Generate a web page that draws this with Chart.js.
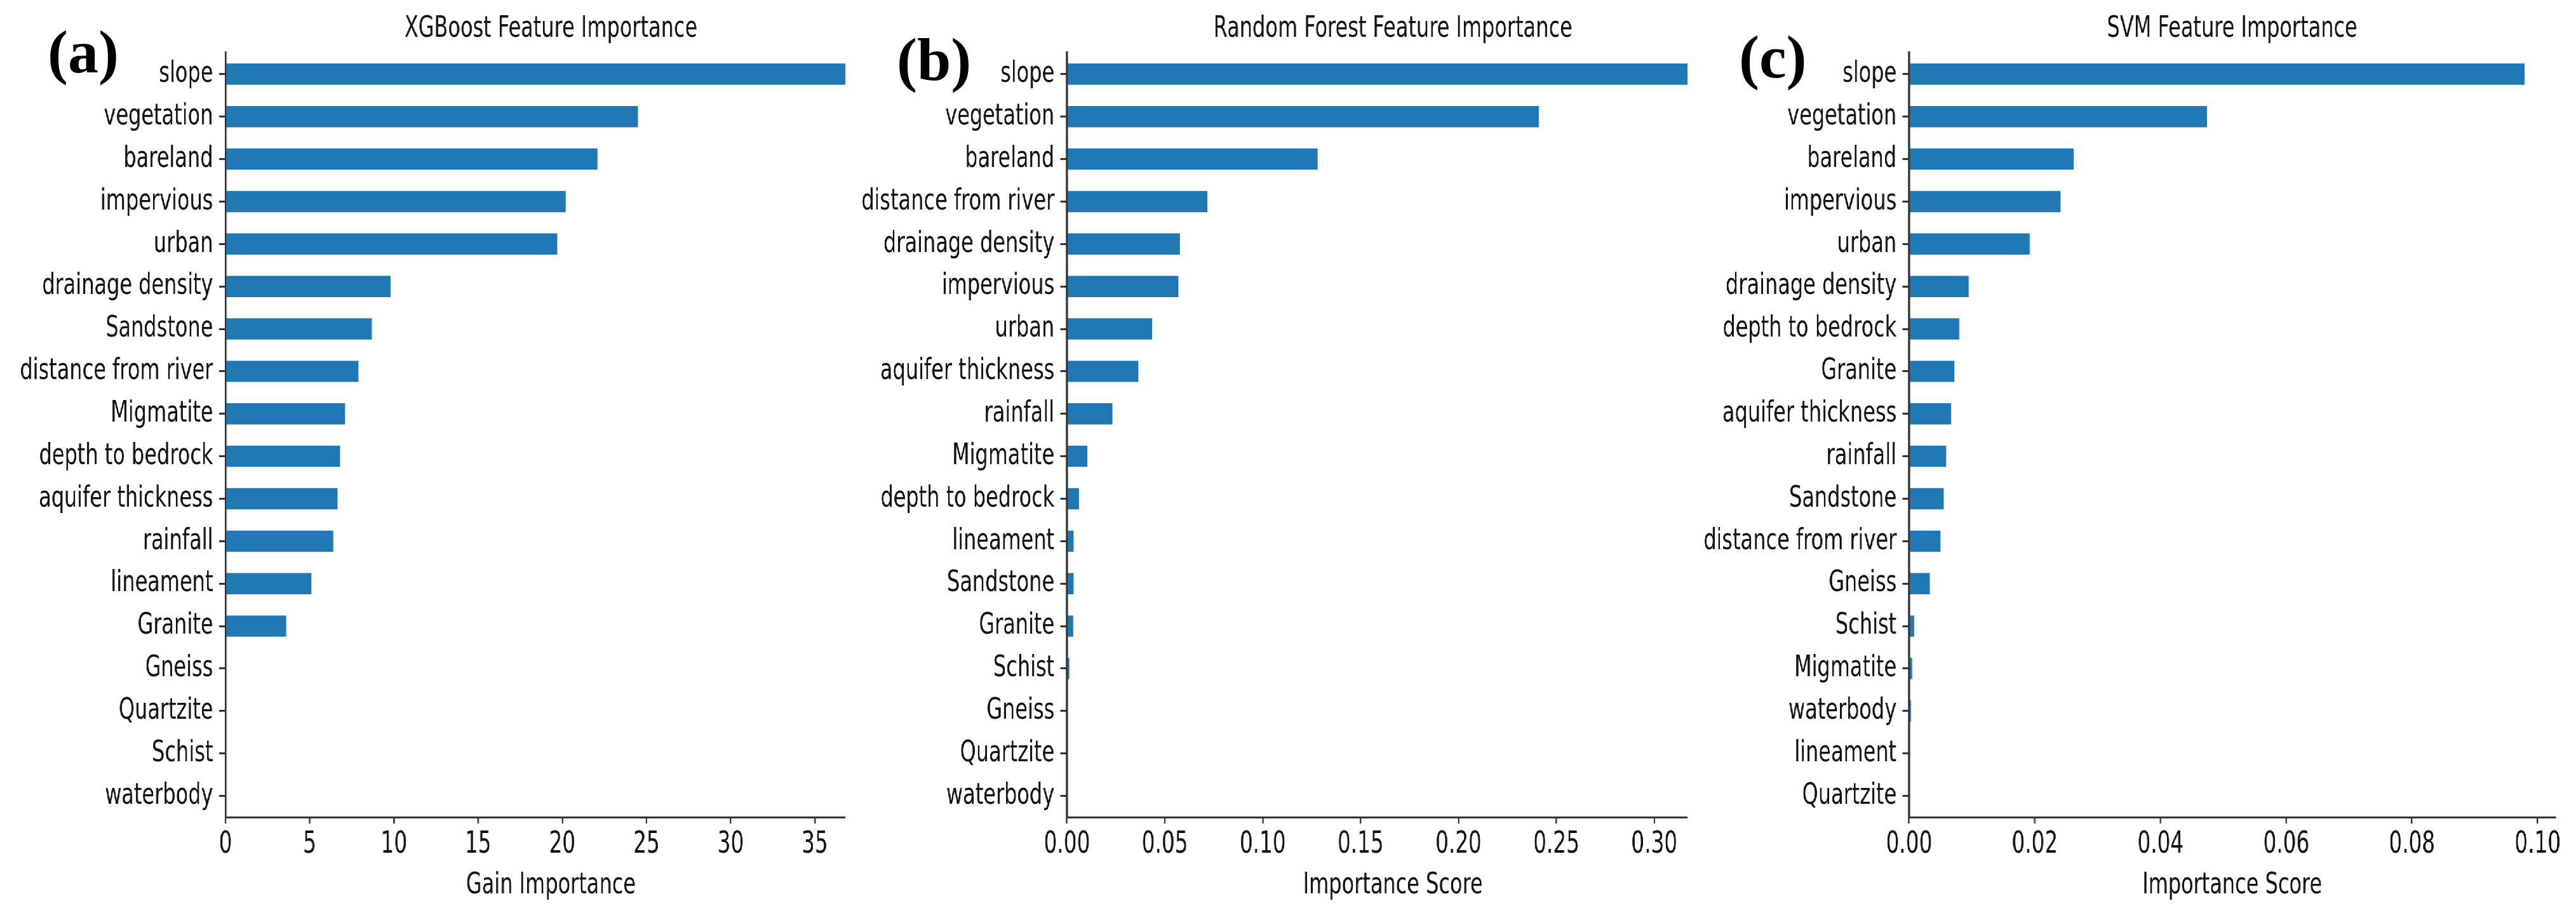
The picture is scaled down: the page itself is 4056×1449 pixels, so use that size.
<!DOCTYPE html>
<html>
<head>
<meta charset="utf-8">
<script src="https://cdn.jsdelivr.net/npm/chart.js@4.4.1/dist/chart.umd.min.js"></script>
<style>
  html, body { margin: 0; padding: 0; background: #fff; }
  body { width: 4056px; height: 1449px; position: relative; overflow: hidden; }
  #stage { position: absolute; left: 0; top: 0; height: 1449px; transform-origin: 0 0; }
  .panel { position: absolute; top: 0; height: 1449px; background: #fff; }
  .tag { position: absolute; font-family: "Liberation Serif", "Times New Roman", serif;
         font-weight: bold; font-size: 96px; line-height: 96px; color: #000; }
</style>
</head>
<body>
<div id="stage">
  <div class="panel" id="pa"><canvas></canvas></div>
  <div class="panel" id="pb"><canvas></canvas></div>
  <div class="panel" id="pc"><canvas></canvas></div>
</div>
<div class="tag" style="left:75px;top:34px">(a)</div>
<div class="tag" style="left:1412px;top:46px">(b)</div>
<div class="tag" style="left:2738px;top:42px">(c)</div>

<script>
// (a) XGBoost
const xgbFeatures = ['slope', 'vegetation', 'bareland', 'impervious', 'urban', 'drainage density',
  'Sandstone', 'distance from river', 'Migmatite', 'depth to bedrock', 'aquifer thickness',
  'rainfall', 'lineament', 'Granite', 'Gneiss', 'Quartzite', 'Schist', 'waterbody'];
const xgbGain = [36.9, 24.5, 22.1, 20.2, 19.7, 9.8, 8.7, 7.9, 7.1, 6.8, 6.65, 6.4, 5.1, 3.6, 0, 0, 0, 0];
const xgbTicks = [0, 5, 10, 15, 20, 25, 30, 35];
const xgbTickLabels = ['0', '5', '10', '15', '20', '25', '30', '35'];

// (b) Random Forest
const rfFeatures = ['slope', 'vegetation', 'bareland', 'distance from river', 'drainage density',
  'impervious', 'urban', 'aquifer thickness', 'rainfall', 'Migmatite', 'depth to bedrock',
  'lineament', 'Sandstone', 'Granite', 'Schist', 'Gneiss', 'Quartzite', 'waterbody'];
const rfScore = [0.317, 0.241, 0.128, 0.0717, 0.0577, 0.0569, 0.0435, 0.0366, 0.0232, 0.0104,
  0.0061, 0.0035, 0.0035, 0.0032, 0.0012, 0, 0, 0];
const rfTicks = [0, 0.05, 0.10, 0.15, 0.20, 0.25, 0.30];
const rfTickLabels = ['0.00', '0.05', '0.10', '0.15', '0.20', '0.25', '0.30'];

// (c) SVM
const svmFeatures = ['slope', 'vegetation', 'bareland', 'impervious', 'urban', 'drainage density',
  'depth to bedrock', 'Granite', 'aquifer thickness', 'rainfall', 'Sandstone', 'distance from river',
  'Gneiss', 'Schist', 'Migmatite', 'waterbody', 'lineament', 'Quartzite'];
const svmScore = [0.0979, 0.0474, 0.0262, 0.0241, 0.0192, 0.0095, 0.0080, 0.0072, 0.0067, 0.0059,
  0.0055, 0.0050, 0.0033, 0.0008, 0.0005, 0.0003, 0, 0];
const svmTicks = [0, 0.02, 0.04, 0.06, 0.08, 0.10];
const svmTickLabels = ['0.00', '0.02', '0.04', '0.06', '0.08', '0.10'];

// axis limits (max bar + 5% margin, as in the source figure)
const xgbMax = 38.65;
const rfMax = 0.333;
const svmMax = 0.1028;

// the source picture is squeezed horizontally; draw wide and compress
const SQUEEZE = 0.68;
const FONT = 'DejaVu Sans';
const TEXT = '#111';
const AXIS = '#333';
const BAR = '#1f77b4';

const stage = document.getElementById('stage');
stage.style.width = (4056 / SQUEEZE) + 'px';
stage.style.transform = 'scaleX(' + SQUEEZE + ')';

function makePanel(id, labels, values, title, xTitle, tickVals, tickText, xMax, geo) {
  const el = document.getElementById(id);
  const left = geo.coverLeft / SQUEEZE;
  const axisX = geo.axisX / SQUEEZE;
  const right = geo.plotRight / SQUEEZE;
  const padR = geo.padRight / SQUEEZE;
  const yw = axisX - left;
  el.style.left = left + 'px';
  el.style.width = (right + padR - left) + 'px';

  const font = { family: FONT, size: 47, weight: 'normal', lineHeight: 1.2 };
  const tickFont = { family: FONT, size: 48, weight: 'normal', lineHeight: 1.2 };

  new Chart(el.querySelector('canvas'), {
    type: 'bar',
    data: {
      labels: labels,
      datasets: [{
        data: values,
        backgroundColor: BAR,
        borderWidth: 0,
        barPercentage: 0.5,
        categoryPercentage: 1
      }]
    },
    options: {
      indexAxis: 'y',
      responsive: true,
      maintainAspectRatio: false,
      animation: false,
      devicePixelRatio: 1,
      layout: { padding: { left: 0, right: padR, top: 0, bottom: 0 } },
      plugins: {
        legend: { display: false },
        tooltip: { enabled: false },
        title: {
          display: true,
          text: title,
          fullSize: false,
          color: TEXT,
          font: font,
          padding: { top: 18, bottom: 9 }
        }
      },
      scales: {
        x: {
          type: 'linear',
          min: 0,
          max: xMax,
          afterBuildTicks: s => { s.ticks = tickVals.map(v => ({ value: v })); },
          afterFit: s => { s.height = 162; },
          ticks: {
            callback: (v, i) => tickText[i],
            color: TEXT,
            font: tickFont,
            padding: 5,
            maxRotation: 0,
            autoSkip: false
          },
          grid: { drawOnChartArea: false, drawTicks: true, tickLength: 10, color: AXIS, lineWidth: 3.5 },
          border: { display: true, color: AXIS, width: 3 },
          title: { display: true, text: xTitle, color: TEXT, font: font, padding: { top: 0, bottom: 26 } }
        },
        y: {
          afterFit: s => { s.width = yw; },
          ticks: { color: TEXT, font: font, padding: 14, autoSkip: false },
          grid: { drawOnChartArea: false, drawTicks: true, offset: false, tickLength: 15, color: AXIS, lineWidth: 3 },
          border: { display: true, color: AXIS, width: 4.4 }
        }
      }
    }
  });
}

makePanel('pa', xgbFeatures, xgbGain, 'XGBoost Feature Importance', 'Gain Importance',
  xgbTicks, xgbTickLabels, xgbMax, { coverLeft: 0, axisX: 355, plotRight: 1379, padRight: 40 });
makePanel('pb', rfFeatures, rfScore, 'Random Forest Feature Importance', 'Importance Score',
  rfTicks, rfTickLabels, rfMax, { coverLeft: 1331, axisX: 1680, plotRight: 2706, padRight: 40 });
makePanel('pc', svmFeatures, svmScore, 'SVM Feature Importance', 'Importance Score',
  svmTicks, svmTickLabels, svmMax, { coverLeft: 2657, axisX: 3006, plotRight: 4023, padRight: 33 });
</script>
</body>
</html>
